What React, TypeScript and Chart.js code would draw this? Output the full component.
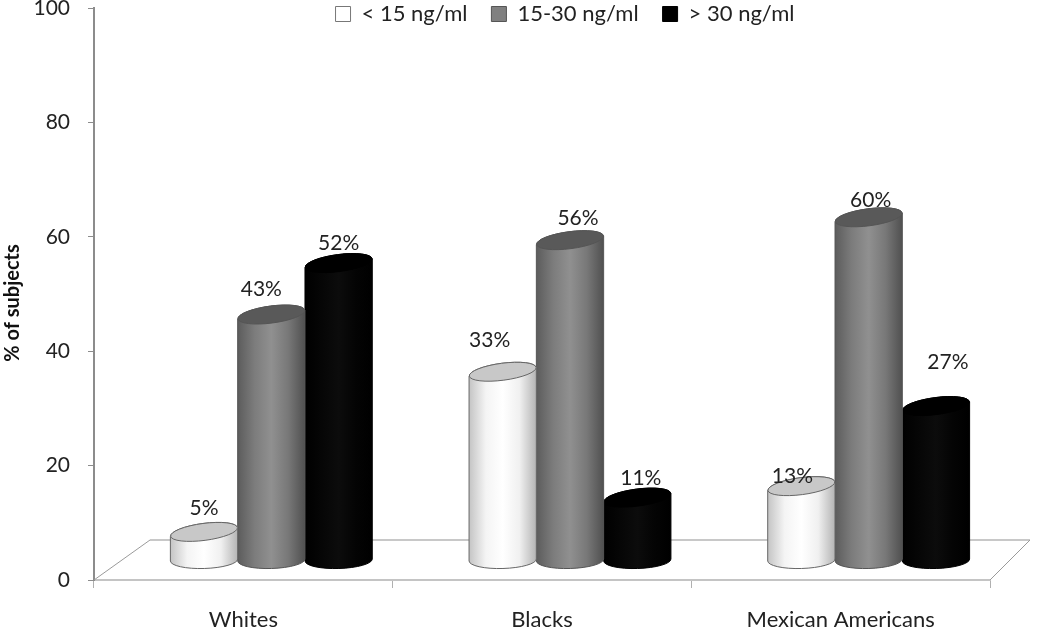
import React, { useEffect, useRef } from "react";
import { Chart, BarController, BarElement, CategoryScale, LinearScale, Legend } from "chart.js";

const categories = ["Whites", "Blacks", "Mexican Americans"];
const seriesNames = ["< 15 ng/ml", "15-30 ng/ml", "> 30 ng/ml"];
const lowValues = [5, 33, 13];
const midValues = [43, 56, 60];
const highValues = [52, 11, 27];
const yTicks = [0, 20, 40, 60, 80, 100];

const FONT = "Lato, 'Noto Sans', sans-serif";
const TEXT = "#222";
// offset of the cylinders from the axis frame (the 3D floor depth)
const DEPTH_X = 28;
const DEPTH_Y = -19.5;
const RY = 8.5;

// body gradient and cap colour per series base colour
const looks: Record<string, { stops: string[]; cap: string; line: string }> = {
  "#ffffff": { stops: ["#c4c4c4", "#f4f4f4", "#ffffff", "#f0f0f0", "#b4b4b4"], cap: "#c8c8c8", line: "#666" },
  "#808080": { stops: ["#5c5c5c", "#7c7c7c", "#909090", "#787878", "#505050"], cap: "#595959", line: "#555" },
  "#000000": { stops: ["#000", "#060606", "#0c0c0c", "#040404", "#000"], cap: "#000", line: "#000" },
};

class CylinderBar extends BarElement {
  static id = "cylinderBar";
  draw(ctx: CanvasRenderingContext2D) {
    const { x, y, base, width } = this as any;
    const look = looks[(this as any).options.backgroundColor] || looks["#000000"];
    const rx = width / 2;
    const topTilt = -0.13;
    const baseTilt = -0.03;
    const dTop = rx * Math.sin(topTilt);
    const dBase = rx * Math.sin(baseTilt);
    const g = ctx.createLinearGradient(x - rx, 0, x + rx, 0);
    look.stops.forEach((c, i) => g.addColorStop(i / (look.stops.length - 1), c));
    ctx.save();
    ctx.beginPath();
    ctx.moveTo(x - rx, y - dTop);
    ctx.lineTo(x - rx, base - dBase);
    ctx.ellipse(x, base, rx, RY, baseTilt, Math.PI, 0, true);
    ctx.lineTo(x + rx, y + dTop);
    ctx.ellipse(x, y, rx, RY, topTilt, 0, Math.PI, true);
    ctx.closePath();
    ctx.fillStyle = g;
    ctx.fill();
    ctx.strokeStyle = look.line;
    ctx.lineWidth = 1;
    ctx.stroke();
    ctx.beginPath();
    ctx.ellipse(x, y, rx, RY, topTilt, 0, Math.PI * 2);
    ctx.fillStyle = look.cap;
    ctx.fill();
    ctx.stroke();
    ctx.restore();
  }
}

class CylinderController extends BarController {
  static id = "cylinder";
  static defaults = { ...BarController.defaults, dataElementType: "cylinderBar" };
  static overrides = BarController.overrides;
}

Chart.register(CategoryScale, LinearScale, Legend, BarElement, CylinderBar, CylinderController);

// label displacement from the top of each cylinder: series -> category
const labelNudges = [
  [[0, -24], [-13, -32], [-9, -10]],
  [[-10, -25], [8, -22], [2, -17]],
  [[0, -20], [3.5, -19], [12, -44]],
];

const scenePlugin = {
  id: "scene",
  beforeLayout(chart: any) {
    const legend = chart.legend;
    if (legend && !legend.__patched) {
      const fit = legend.fit;
      legend.fit = function () {
        fit.call(this);
        this.height = 0;
      };
      legend.__patched = true;
    }
  },
  afterLayout(chart: any) {
    if (chart.legend) {
      chart.legend.top = -21;
      chart.legend.bottom = 30;
      chart.legend.left += 23;
      chart.legend.right += 23;
    }
    const y = chart.scales.y;
    if (y && !y.__patched) {
      const drawTitle = y.drawTitle;
      y.drawTitle = function (...args: any[]) {
        this.ctx.save();
        this.ctx.translate(1, 9);
        drawTitle.apply(this, args);
        this.ctx.restore();
      };
      y.__patched = true;
    }
  },
  beforeDatasetsDraw(chart: any) {
    const { ctx } = chart;
    const x = chart.scales.x;
    const y = chart.scales.y;
    const backY = y.bottom - 40;
    ctx.save();
    ctx.strokeStyle = "#c8c8c8";
    ctx.lineWidth = 2;
    ctx.beginPath();
    ctx.moveTo(x.left + 56, backY);
    ctx.lineTo(x.right + 40, backY);
    ctx.stroke();
    ctx.strokeStyle = "#9a9a9a";
    ctx.lineWidth = 1;
    ctx.beginPath();
    ctx.moveTo(x.left, y.bottom);
    ctx.lineTo(x.left + 56, backY);
    ctx.moveTo(x.right, y.bottom);
    ctx.lineTo(x.right + 40, backY);
    ctx.stroke();
    ctx.restore();
    ctx.save();
    ctx.translate(DEPTH_X, DEPTH_Y);
  },
  afterDatasetsDraw(chart: any) {
    const { ctx } = chart;
    ctx.font = `21px ${FONT}`;
    ctx.fillStyle = TEXT;
    ctx.textAlign = "center";
    ctx.textBaseline = "middle";
    chart.data.datasets.forEach((ds: any, s: number) => {
      chart.getDatasetMeta(s).data.forEach((bar: any, i: number) => {
        const [dx, dy] = labelNudges[s][i];
        ctx.fillText(`${ds.data[i]}%`, bar.x + dx, bar.y + dy);
      });
    });
    ctx.restore();
  },
};

export default function App() {
  const ref = useRef<HTMLCanvasElement>(null);
  useEffect(() => {
    document.body.style.margin = "0";
    const values = [lowValues, midValues, highValues];
    const colors = ["#ffffff", "#808080", "#000000"];
    const chart = new Chart(ref.current!, {
      type: "cylinder" as any,
      data: {
        labels: categories,
        datasets: seriesNames.map((label, i) => ({
          label,
          data: values[i],
          backgroundColor: colors[i],
          borderColor: i === 0 ? "#777" : i === 1 ? "#555" : "#000",
          borderWidth: 1,
          categoryPercentage: 0.676,
          barPercentage: 1,
          clip: false as any,
        })),
      },
      options: {
        responsive: false,
        animation: false,
        layout: { padding: { top: 8, right: 60, left: 0, bottom: 0 } },
        plugins: {
          legend: {
            position: "top",
            fullSize: false,
            align: "center",
            labels: {
              boxWidth: 15,
              boxHeight: 15,
              padding: 24,
              color: TEXT,
              font: { family: FONT, size: 22 },
            },
          },
          tooltip: { enabled: false },
          title: { display: false },
        } as any,
        scales: {
          x: {
            type: "category",
            offset: true,
            afterFit: (s: any) => { s.height = 49; s.paddingLeft = 0; s.paddingRight = 0; },
            border: { color: "#c4c4c4", width: 2 },
            grid: { offset: true, drawOnChartArea: false, color: "#b0b0b0", tickLength: 8 },
            ticks: { color: TEXT, font: { family: FONT, size: 22 }, padding: 19, maxRotation: 0, autoSkip: false },
          },
          y: {
            type: "linear",
            min: 0,
            max: 100,
            afterFit: (s: any) => { s.width = 94; s.paddingTop = 0; s.paddingBottom = 0; },
            afterBuildTicks: (s: any) => { s.ticks = yTicks.map((value) => ({ value })); },
            border: { color: "#8c8c8c", width: 2 },
            grid: { drawOnChartArea: false, color: "#8c8c8c", tickLength: 6 },
            ticks: { color: TEXT, font: { family: FONT, size: 21 }, padding: 18 },
            title: {
              display: true,
              text: "% of subjects",
              color: "#111",
              font: { family: FONT, size: 20, weight: "bold" },
              padding: { top: 0, bottom: 0 },
            },
          },
        },
      },
      plugins: [scenePlugin as any],
    });
    return () => chart.destroy();
  }, []);
  return (
    <div style={{ position: "absolute", left: 0, top: 0, width: 1050, height: 629 }}>
      <canvas ref={ref} width={1050} height={629} style={{ display: "block", filter: "blur(0.5px)" }} />
    </div>
  );
}
